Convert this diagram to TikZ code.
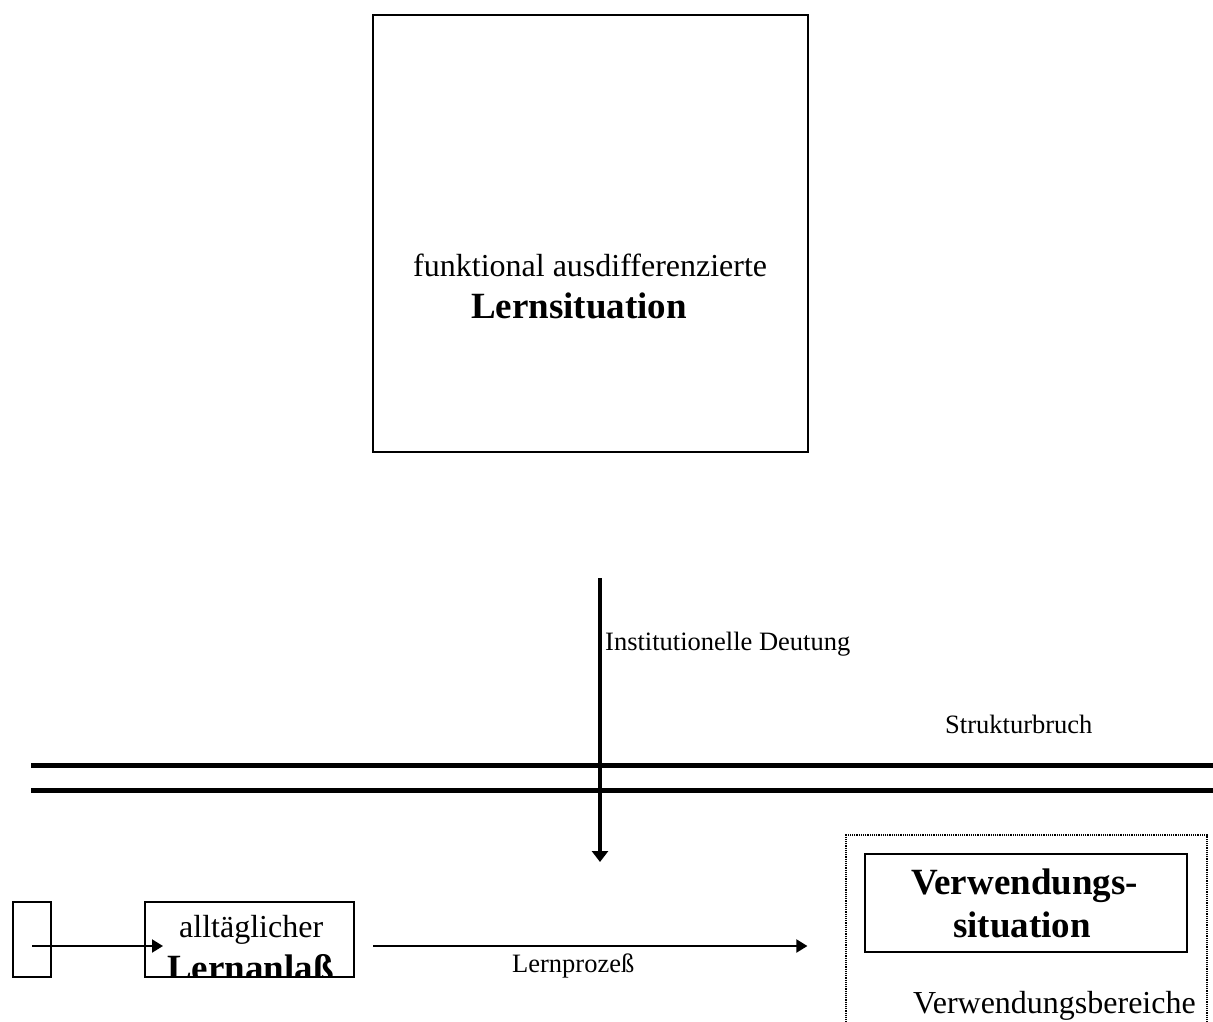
\documentclass[tikz,border=0pt]{standalone}
\usepackage{fontspec}
\setmainfont{Liberation Serif}
\usetikzlibrary{arrows.meta}
\begin{document}
\begin{tikzpicture}[x=1pt,y=-1pt,
  frame/.style={draw, line width=2pt, inner sep=0pt, minimum width=#1},
  regtext/.style={font=\fontsize{32}{38}\selectfont, inner sep=0pt, anchor=base west},
  boldtext/.style={font=\fontsize{37}{44}\selectfont\bfseries, inner sep=0pt, anchor=base west},
  smalltext/.style={font=\fontsize{26.5}{32}\selectfont, inner sep=0pt, anchor=base west},
  thinarrow/.style={line width=2pt, -{Triangle[length=11pt,width=13pt]}},
  thickarrow/.style={line width=4.5pt, -{Triangle[length=11pt,width=16pt]}},
  barline/.style={line width=5pt},
  dottedframe/.style={draw, line width=1.2pt, dash pattern=on 1.2pt off 1pt, inner sep=0pt}]
\useasboundingbox (0,0) rectangle (1213,1021);
\clip (0,0) rectangle (1213,1021);

% upper box: functional learning situation
\node[frame=435pt, minimum height=437pt] (lern) at (590.5,233.5) {};
\node[regtext] (lernA) at (413,276) {funktional ausdifferenzierte};
\node[boldtext] (lernB) at (471,318) {Lernsituation};

% structural break: double bar
\coordinate (b1l) at (31,765);
\coordinate (b1r) at (1220,765);
\coordinate (b2l) at (31,790);
\coordinate (b2r) at (1220,790);
\draw[barline] (b1l) -- (b1r);
\draw[barline] (b2l) -- (b2r);
\node[smalltext] (bruch) at (945,733) {Strukturbruch};

% institutional interpretation crossing the break
\coordinate (deutTop) at (600,578);
\coordinate (deutEnd) at (600,862);
\draw[thickarrow] (deutTop) -- (deutEnd);
\node[smalltext] (deut) at (605,650) {Institutionelle Deutung};

% bottom row
\node[draw, line width=2pt, inner sep=0pt, minimum width=38pt, minimum height=75pt] (start) at (32,939.5) {};
\node[frame=209pt, minimum height=75pt] (anl) at (249.5,939.5) {};
\node[regtext] (anlA) at (179,937) {alltäglicher};
\begin{scope}
  \clip (anl.north west) rectangle ([yshift=1pt]anl.south east);
  \node[boldtext] (anlB) at (167,980) {Lernanlaß};
\end{scope}
\coordinate (rowline) at ([yshift=-6.5pt]start.center);
\draw[thinarrow] (rowline) -- ([xshift=19pt]anl.west |- rowline);

% usage area
\node[dottedframe, minimum width=361pt, minimum height=240pt] (bereich) at (1026.5,955) {};
\node[frame=322pt, minimum height=98pt] (verw) at (1026,903) {};
\node[boldtext] (verwA) at (911,894) {Verwendungs-};
\node[boldtext] (verwB) at (953,937) {situation};
\node[regtext] (bereichT) at (913,1013) {Verwendungsbereiche};

% learning process
\draw[thinarrow] ([xshift=18pt]anl.east |- rowline) -- ([xshift=-38pt]bereich.west |- rowline);
\node[smalltext] (prozess) at (512,972) {Lernprozeß};
\end{tikzpicture}
\end{document}
